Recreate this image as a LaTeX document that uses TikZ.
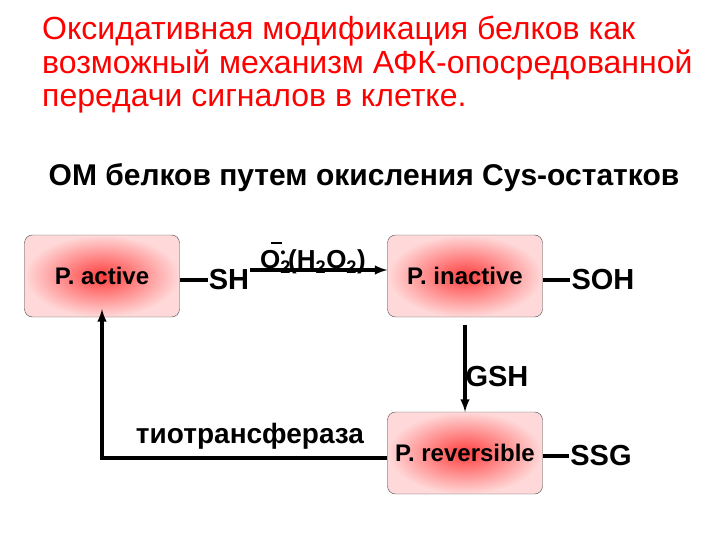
\documentclass[tikz,border=0pt]{standalone}
\usepackage{fontspec}
\setmainfont{Liberation Sans}
\begin{document}
\begin{tikzpicture}[x=1pt,y=-1pt,
  pbox/.style={draw=black!70,rounded corners=8pt,inner color=red!75,outer color=red!15,minimum width=155pt,minimum height=82pt,font=\bfseries\fontsize{24}{26}\selectfont},
  lbl/.style={font=\bfseries\fontsize{29}{30}\selectfont,inner sep=1pt},
  ln/.style={line width=3.2pt},
  arr/.style={line width=3.2pt,-{latex}}]
\useasboundingbox (0,0) rectangle (720,540);
\node[anchor=west,red,font=\fontsize{32}{33.5}\selectfont,align=left,inner sep=0pt] (title) at (42,65)
 {Оксидативная модификация белков как\\возможный механизм АФК-опосредованной\\передачи сигналов в клетке.};
\node[font=\bfseries\fontsize{30}{32}\selectfont] (sub) at (364,178) {ОМ белков путем окисления Cys-остатков};
\node[pbox] (act) at (102,276) {P. active};
\node[pbox] (inact) at (465,276) {P. inactive};
\node[pbox] (rev) at (465,453) {P. reversible};
\node[lbl] (sh) at (229,280) {SH};
\node[lbl] (soh) at (603,280) {SOH};
\node[lbl] (ssg) at (601,456) {SSG};
\node[lbl] (gsh) at (497,377) {GSH};
\node[font=\bfseries\fontsize{28}{30}\selectfont] (tt) at (250,436) {тиотрансфераза};
\node[font=\bfseries\fontsize{26}{28}\selectfont,inner sep=0pt] (ox) at (313,258) {O\textsubscript{2}\kern-0.4em\raisebox{0.45em}{\fontsize{14}{14}\selectfont\textbullet}\kern-0.55em\raisebox{0.95em}{\rule{0.4em}{0.1em}}\kern0.25em (H\textsubscript{2}O\textsubscript{2})};
\draw[ln] (act.east|-sh.west) -- (sh.west);
\draw[arr] (sh.east|-270,270) -- (inact.west|-270,270);
\draw[ln] (inact.east|-0,280) -- (soh.west);
\draw[ln] (rev.east|-0,456) -- (ssg.west);
\draw[arr] (inact.south) ++(0,8) -- (rev.north);
\draw[arr] (rev.west|-0,458) -| ([yshift=8pt]act.south);
\end{tikzpicture}
\end{document}
